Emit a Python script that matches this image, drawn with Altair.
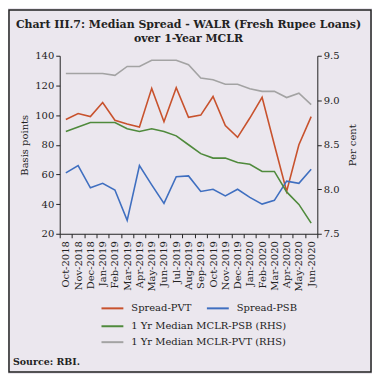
import altair as alt
import pandas as pd

months = ["Oct-2018", "Nov-2018", "Dec-2018", "Jan-2019", "Feb-2019", "Mar-2019",
          "Apr-2019", "May-2019", "Jun-2019", "Jul-2019", "Aug-2019", "Sep-2019",
          "Oct-2019", "Nov-2019", "Dec-2019", "Jan-2020", "Feb-2020", "Mar-2020",
          "Apr-2020", "May-2020", "Jun-2020"]
spread_pvt = [97, 101, 99, 108.5, 96.5, 94, 92, 118, 95.5, 118.5, 98.5, 100,
              112.5, 93, 85, 98, 112, 80, 48.5, 80, 99]
spread_psb = [61, 66, 51, 54, 49.5, 29, 66, 53, 40.5, 58.5, 59, 48.5,
              50, 45.5, 50, 44.5, 40, 42.5, 55.5, 54, 63.5]
mclr_psb = [8.65, 8.70, 8.75, 8.75, 8.75, 8.68, 8.65, 8.68, 8.65, 8.60, 8.50, 8.40,
            8.35, 8.35, 8.30, 8.28, 8.20, 8.20, 7.97, 7.83, 7.62]
mclr_pvt = [9.30, 9.30, 9.30, 9.30, 9.28, 9.38, 9.38, 9.45, 9.45, 9.45, 9.40, 9.25,
            9.23, 9.18, 9.18, 9.13, 9.10, 9.10, 9.03, 9.08, 8.95]

left_names = ["Spread-PVT", "Spread-PSB"]
green_name = "1 Yr Median MCLR-PSB (RHS)"
gray_name = "1 Yr Median MCLR-PVT (RHS)"

FONT = "DejaVu Serif"
W, H = 259, 179

df_left = pd.DataFrame({
    "month": months * 2,
    "value": spread_pvt + spread_psb,
    "series": [left_names[0]] * len(months) + [left_names[1]] * len(months),
})
df_green = pd.DataFrame({"month": months, "value": mclr_psb, "series": green_name})
df_gray = pd.DataFrame({"month": months, "value": mclr_pvt, "series": gray_name})

xenc = alt.X("month:N", sort=months, title=None,
             scale=alt.Scale(type="band", paddingInner=0, paddingOuter=0),
             axis=alt.Axis(labelAngle=270, tickBand="extent", labelFont=FONT,
                           labelFontSize=10, labelColor="#222", domainColor="#222",
                           tickColor="#222", tickSize=4, labelPadding=3))

leg_common = dict(symbolType="stroke", symbolStrokeWidth=2, symbolSize=484,
                  labelFont=FONT, labelFontSize=10, labelColor="#222",
                  labelOffset=7, title=None, orient="none", padding=0)

left = alt.Chart(df_left).mark_line(strokeWidth=1.6).encode(
    x=xenc,
    y=alt.Y("value:Q", title="Basis points",
            scale=alt.Scale(domain=[20, 140], nice=False, zero=False),
            axis=alt.Axis(values=[20, 40, 60, 80, 100, 120, 140], grid=False,
                          labelFont=FONT, labelFontSize=10, labelColor="#222",
                          titleFont=FONT, titleFontSize=10, titleFontWeight="normal",
                          titleColor="#222", domainColor="#222", tickColor="#222",
                          tickSize=4, titlePadding=5)),
    color=alt.Color("series:N", sort=left_names,
                    scale=alt.Scale(domain=left_names, range=["#c8522d", "#3f6fc0"]),
                    legend=alt.Legend(direction="horizontal", columns=2,
                                      columnPadding=11, legendX=41, legendY=242,
                                      **leg_common)),
)

right_axis = alt.Axis(values=[7.5, 8.0, 8.5, 9.0, 9.5], format=".1f", grid=False,
                      orient="right", labelFont=FONT, labelFontSize=10,
                      labelColor="#222", titleFont=FONT, titleFontSize=10,
                      titleFontWeight="normal", titleColor="#222", titleAngle=270,
                      domainColor="#222", tickColor="#222", tickSize=4,
                      titlePadding=19)
rscale = alt.Scale(domain=[7.5, 9.5], nice=False, zero=False)

green = alt.Chart(df_green).mark_line(strokeWidth=1.6).encode(
    x=xenc,
    y=alt.Y("value:Q", title="Per cent", scale=rscale, axis=right_axis),
    color=alt.Color("series:N",
                    scale=alt.Scale(domain=[green_name], range=["#4f8a3c"]),
                    legend=alt.Legend(direction="vertical", legendX=41, legendY=260,
                                      **leg_common)),
)
gray = alt.Chart(df_gray).mark_line(strokeWidth=1.6).encode(
    x=xenc,
    y=alt.Y("value:Q", title="Per cent", scale=rscale, axis=right_axis),
    color=alt.Color("series:N",
                    scale=alt.Scale(domain=[gray_name], range=["#a3a3a3"]),
                    legend=alt.Legend(direction="vertical", legendX=41, legendY=276,
                                      **leg_common)),
)
right = alt.layer(gray, green).resolve_scale(color="independent")

source = alt.Chart(pd.DataFrame({"t": ["Source: RBI."]})).mark_text(
    align="left", baseline="middle", font=FONT, fontSize=9.5, fontWeight="bold",
    color="#222").encode(x=alt.value(-47), y=alt.value(308), text="t:N")

border = alt.Chart(pd.DataFrame({"a": [0]})).mark_rect(
    fill="transparent", stroke="#222", strokeWidth=1.5).encode(
    x=alt.value(-51), x2=alt.value(W + 54), y=alt.value(-46), y2=alt.value(H + 139))

chart = alt.layer(border, left, right, source).resolve_scale(
    y="independent", color="independent"
).properties(
    width=W, height=H,
    padding={"left": 52, "top": 47, "right": 55, "bottom": 140},
    autosize=alt.AutoSizeParams(type="none"),
    title=alt.TitleParams(
        text=["Chart III.7: Median Spread - WALR (Fresh Rupee Loans)",
              "over 1-Year MCLR"],
        font=FONT, fontSize=11, fontWeight="bold", color="#222",
        anchor="middle", frame="group", lineHeight=14, offset=0, dy=35),
).configure(background="#ebe7ee").configure_view(strokeWidth=0)

chart.save("out.html", embed_options={"renderer": "svg", "actions": False})
